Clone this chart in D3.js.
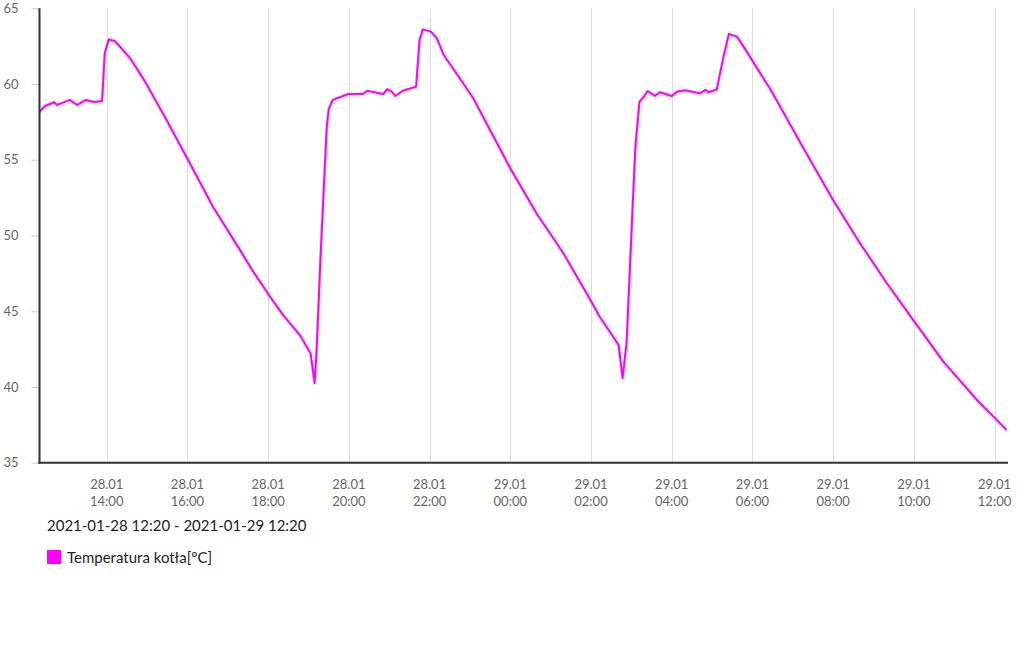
<!DOCTYPE html>
<html>
<head>
<meta charset="utf-8">
<script src="https://cdn.jsdelivr.net/npm/d3@7"></script>
<style>
  body { margin: 0; background: #fff; font-family: Lato, "Open Sans", sans-serif; }
  svg { display: block; }
</style>
</head>
<body>
<div id="chart"></div>
<script>
// readings of boiler temperature
const times = [
  '2021-01-28 12:20', '2021-01-28 12:28', '2021-01-28 12:42', '2021-01-28 12:46', '2021-01-28 13:05',
  '2021-01-28 13:16', '2021-01-28 13:29', '2021-01-28 13:42', '2021-01-28 13:53', '2021-01-28 13:57',
  '2021-01-28 14:03', '2021-01-28 14:12', '2021-01-28 14:22', '2021-01-28 14:35', '2021-01-28 14:57',
  '2021-01-28 15:04', '2021-01-28 15:29', '2021-01-28 16:01', '2021-01-28 16:38', '2021-01-28 17:18',
  '2021-01-28 17:38', '2021-01-28 18:03', '2021-01-28 18:22', '2021-01-28 18:47', '2021-01-28 19:03',
  '2021-01-28 19:09', '2021-01-28 19:12', '2021-01-28 19:18', '2021-01-28 19:24', '2021-01-28 19:27',
  '2021-01-28 19:30', '2021-01-28 19:36', '2021-01-28 19:59', '2021-01-28 20:21', '2021-01-28 20:27',
  '2021-01-28 20:51', '2021-01-28 20:57', '2021-01-28 21:04', '2021-01-28 21:09', '2021-01-28 21:20',
  '2021-01-28 21:40', '2021-01-28 21:45', '2021-01-28 21:50', '2021-01-28 22:02', '2021-01-28 22:11',
  '2021-01-28 22:21', '2021-01-28 22:50', '2021-01-28 23:05', '2021-01-29 00:00', '2021-01-29 00:39',
  '2021-01-29 01:19', '2021-01-29 01:59', '2021-01-29 02:13', '2021-01-29 02:41', '2021-01-29 02:47',
  '2021-01-29 02:53', '2021-01-29 03:01', '2021-01-29 03:06', '2021-01-29 03:12', '2021-01-29 03:18',
  '2021-01-29 03:24', '2021-01-29 03:35', '2021-01-29 03:43', '2021-01-29 04:00', '2021-01-29 04:08',
  '2021-01-29 04:20', '2021-01-29 04:42', '2021-01-29 04:50', '2021-01-29 04:55', '2021-01-29 05:07',
  '2021-01-29 05:17', '2021-01-29 05:25', '2021-01-29 05:37', '2021-01-29 05:47', '2021-01-29 06:21',
  '2021-01-29 06:26', '2021-01-29 07:16', '2021-01-29 08:00', '2021-01-29 08:40', '2021-01-29 09:20',
  '2021-01-29 09:59', '2021-01-29 10:44', '2021-01-29 11:34', '2021-01-29 12:18'
];
const temps = [
  58.16, 58.55, 58.80, 58.62, 58.95,
  58.62, 58.95, 58.82, 58.88, 62.03,
  62.95, 62.84, 62.36, 61.70, 60.16,
  59.61, 57.63, 54.99, 51.90, 49.05,
  47.61, 45.96, 44.76, 43.44, 42.23,
  40.25, 42.44, 48.72, 54.33, 57.10,
  58.35, 58.95, 59.34, 59.34, 59.56,
  59.34, 59.67, 59.50, 59.21, 59.56,
  59.83, 62.91, 63.61, 63.46, 63.02,
  61.92, 60.05, 59.06, 54.44, 51.47,
  48.83, 45.75, 44.64, 42.78, 40.58,
  42.99, 51.03, 55.86, 58.83, 59.13,
  59.54, 59.23, 59.46, 59.21, 59.50,
  59.59, 59.39, 59.61, 59.46, 59.65,
  61.81, 63.30, 63.13, 62.47, 60.05,
  59.72, 55.76, 52.35, 49.49, 46.85,
  44.43, 41.67, 39.14, 37.17
];
const yTicks = [35, 40, 45, 50, 55, 60, 65];
const rangeStart = '2021-01-28 12:20';
const rangeEnd = '2021-01-29 12:20';
const seriesName = 'Temperatura kotła[°C]';

const width = 1024, height = 653;
const plotLeft = 39.5, plotRight = 1008, plotTop = 8.3, plotBottom = 462.7;

const parse = d3.timeParse('%Y-%m-%d %H:%M');
const data = times.map((t, i) => ({ t: parse(t), v: temps[i] }));

const svg = d3.select('#chart').append('svg')
  .attr('width', width)
  .attr('height', height);

const x = d3.scaleTime()
  .domain([parse(rangeStart), parse(rangeEnd)])
  .range([plotLeft, plotRight]);

const y = d3.scaleLinear()
  .domain([35, 65])
  .range([plotBottom, plotTop]);

const xTicks = x.ticks(d3.timeHour.every(2));

// vertical grid
svg.append('g')
  .selectAll('line')
  .data(xTicks)
  .enter().append('line')
    .attr('x1', d => Math.round(x(d)) + 0.5)
    .attr('x2', d => Math.round(x(d)) + 0.5)
    .attr('y1', plotTop)
    .attr('y2', plotBottom)
    .attr('stroke', '#dcdcdc')
    .attr('stroke-width', 1);

// y axis labels and ticks
const yAxis = d3.axisLeft(y).tickValues(yTicks).tickSize(8).tickPadding(13);
svg.append('g')
  .attr('transform', 'translate(' + plotLeft + ',0)')
  .call(yAxis)
  .call(g => g.select('.domain').remove())
  .call(g => g.selectAll('.tick line').attr('stroke', '#ccc'))
  .call(g => g.selectAll('.tick text')
    .attr('fill', '#666')
    .style('font-family', 'Lato, sans-serif')
    .style('font-size', '13px'));

// x axis labels on two lines
const fmtDay = d3.timeFormat('%d.%m');
const fmtHour = d3.timeFormat('%H:%M');
const xLabels = svg.append('g')
  .selectAll('text')
  .data(xTicks)
  .enter().append('text')
    .attr('text-anchor', 'middle')
    .attr('fill', '#666')
    .style('font-family', 'Lato, sans-serif')
    .style('font-size', '13px');
xLabels.append('tspan')
  .attr('x', d => x(d))
  .attr('y', 489)
  .text(d => fmtDay(d));
xLabels.append('tspan')
  .attr('x', d => x(d))
  .attr('y', 506)
  .text(d => fmtHour(d));

// line with light shadow
const line = d3.line()
  .x(d => x(d.t))
  .y(d => y(d.v));

svg.append('path')
  .datum(data)
  .attr('d', line)
  .attr('fill', 'none')
  .attr('stroke', 'rgba(0,0,0,0.12)')
  .attr('stroke-width', 3)
  .attr('transform', 'translate(0,1)');

svg.append('path')
  .datum(data)
  .attr('d', line)
  .attr('fill', 'none')
  .attr('stroke', '#ff00ff')
  .attr('stroke-width', 2)
  .attr('stroke-linejoin', 'round');

// axis lines
svg.append('line')
  .attr('x1', plotLeft).attr('x2', plotLeft)
  .attr('y1', plotTop).attr('y2', plotBottom + 1)
  .attr('stroke', '#333').attr('stroke-width', 2);
svg.append('line')
  .attr('x1', plotLeft - 1).attr('x2', plotRight)
  .attr('y1', plotBottom).attr('y2', plotBottom)
  .attr('stroke', '#333').attr('stroke-width', 2);

// date range caption
svg.append('text')
  .attr('x', 47)
  .attr('y', 531)
  .attr('fill', '#222')
  .style('font-family', 'Lato, sans-serif')
  .style('font-size', '15px')
  .text(rangeStart + ' - ' + rangeEnd);

// legend
svg.append('rect')
  .attr('x', 47).attr('y', 550)
  .attr('width', 14).attr('height', 14)
  .attr('fill', '#ff00ff');
svg.append('text')
  .attr('x', 67)
  .attr('y', 563)
  .attr('fill', '#222')
  .style('font-family', 'Lato, sans-serif')
  .style('font-size', '15px')
  .text(seriesName);
</script>
</body>
</html>
